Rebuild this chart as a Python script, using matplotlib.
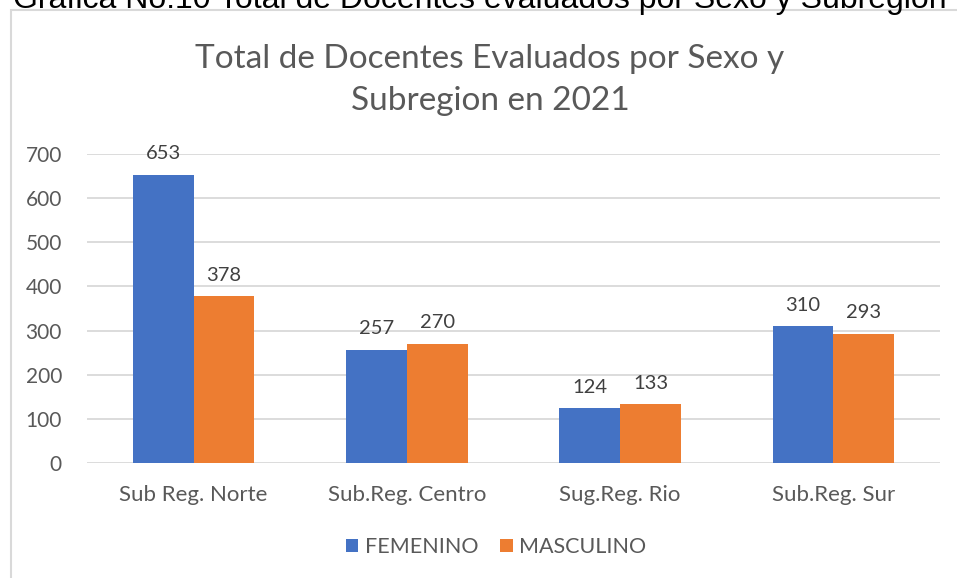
import numpy as np
import matplotlib
matplotlib.use('Agg')
import matplotlib.pyplot as plt
from matplotlib.patches import Rectangle

# data
categories = ['Sub Reg. Norte', 'Sub.Reg. Centro', 'Sug.Reg. Rio', 'Sub.Reg. Sur']
femenino = [653, 257, 124, 310]
masculino = [378, 270, 133, 293]
series_names = ['FEMENINO', 'MASCULINO']
yticks = [0, 100, 200, 300, 400, 500, 600, 700]

blue = '#4472C4'
orange = '#ED7D31'
txt = '#595959'

plt.rcParams['font.family'] = ['Lato', 'DejaVu Sans']

fig = plt.figure(figsize=(9.57, 5.78), dpi=100)
W, H = 957, 578

# chart frame (cut off at right and bottom)
fig.patches.append(Rectangle((11 / W, -0.1), 2.0, 1 - 10 / H + 0.1,
                             transform=fig.transFigure, facecolor='white',
                             edgecolor='#d9d9d9', linewidth=1.5, zorder=-5))

# caption cut off at top
fig.text(480 / W, 1 - 8 / H, 'Grafica No.10 Total de Docentes evaluados por Sexo y Subregion',
         ha='center', va='baseline', fontsize=23, family='Liberation Sans', color='black')

ax = fig.add_axes([87 / W, 115 / H, (940 - 87) / W, (463 - 154) / H])
ax.set_facecolor('none')
x = np.arange(len(categories))
w = 0.285
b1 = ax.bar(x - w / 2, femenino, w, color=blue, label=series_names[0], zorder=3)
b2 = ax.bar(x + w / 2, masculino, w, color=orange, label=series_names[1], zorder=3)

for bars in (b1, b2):
    for r in bars:
        ax.annotate(str(int(r.get_height())), (r.get_x() + r.get_width() / 2, r.get_height()),
                    xytext=(0, 9), textcoords='offset points', ha='center', va='bottom',
                    fontsize=14.5, color='#404040')

ax.set_xlim(-0.5, len(categories) - 0.5)
ax.set_ylim(0, 700)
ax.set_yticks(yticks)
ax.set_xticks(x)
ax.set_xticklabels(categories)
ax.yaxis.grid(True, color='#d9d9d9', linewidth=1.3, zorder=0)
for s in ax.spines.values():
    s.set_visible(False)
ax.tick_params(axis='both', length=0, colors=txt)
ax.tick_params(axis='y', pad=18, labelsize=15)
ax.tick_params(axis='x', pad=16, labelsize=16)

fig.text(490 / W, 1 - 80 / H, 'Total de Docentes Evaluados por Sexo y\nSubregion en 2021',
         ha='center', va='center', fontsize=24, color=txt, linespacing=1.5)

fig.legend(loc='center', bbox_to_anchor=(496 / W, 1 - 547 / H), ncol=2, frameon=False,
           fontsize=15.5, handlelength=0.6, handleheight=0.6, handletextpad=0.3,
           columnspacing=1.0, labelcolor=txt)

fig.savefig('out.png', dpi=100)
